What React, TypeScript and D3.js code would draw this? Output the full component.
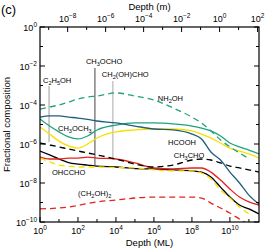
import React, { useRef, useEffect } from 'react';
import * as d3 from 'd3';

// depth grid (monolayers)
const depthML = [1, 3.2, 10, 32, 100, 320, 1e3, 1e4, 1e5, 1e6, 1e7, 1e8, 3.2e8, 1e9, 3.2e9, 1e10, 3.2e10, 1e11, 3.4e11];

// log10 of fractional composition on the depth grid
const tealSolid = [-4.72, -5.08, -5.38, -5.64, -5.74, -5.59, -5.28, -5.03, -4.92, -4.92, -4.97, -5.08, -5.18, -5.33, -5.59, -5.95, -6.15, -6.31, -6.51];
const yellowSolid = [-5.13, -5.49, -5.85, -6.1, -6.21, -6.0, -5.69, -5.38, -5.28, -5.23, -5.23, -5.33, -5.49, -5.69, -5.95, -6.21, -6.36, -6.51, -6.72];
const blueSolid = [-4.62, -4.56, -4.56, -4.62, -4.67, -4.74, -4.82, -4.92, -5.08, -5.23, -5.28, -5.49, -5.74, -6.41, -6.82, -7.44, -8.0, -8.62, -9.08];
const greenDashed = [-4.21, -4.1, -4.0, -3.85, -3.69, -3.59, -3.54, -3.38, -3.54, -3.74, -4.15, -4.62, -4.92, -5.33, -5.79, -6.15, -6.46, -6.75, null];
const blackSolid = [-6.36, -6.56, -6.77, -6.95, -7.03, -7.08, -7.13, -7.18, -7.26, -7.28, -7.33, -7.38, -7.44, -7.69, -8.21, -8.72, -9.13, -9.33, -9.59];
const redSolid = [-6.67, -6.77, -6.77, -6.72, -6.72, -6.67, -6.72, -6.77, -6.97, -7.23, -7.28, -7.23, -7.23, -7.44, -7.85, -8.31, -8.72, -8.97, -9.13];
const yellowDashed = [-6.72, -6.92, -7.08, -7.13, -7.18, -7.18, -7.18, -7.21, -7.23, -7.33, -7.38, -7.38, -7.49, -7.79, -8.36, -8.77, -9.23, -9.59, null];
const blackDashed = [-5.95, -6.05, -6.15, -6.26, -6.36, -6.46, -6.56, -6.77, -7.03, -7.18, -7.08, -6.82, -6.77, -6.82, -6.97, -7.13, -7.23, -7.33, -7.44];
const redDashed = [-9.33, -9.31, -9.28, -9.23, -9.15, -9.05, -8.97, -8.87, -8.77, -8.72, -8.72, -8.72, -8.77, -9.03, -9.28, -9.54, -9.85, -10.15, -10.46];

// species labels: text, depth (ML), fraction at baseline
const labelText = ['C2H5OH', 'CH3OCHO', 'CH2(OH)CHO', 'NH2OH', 'CH3OCH3', 'HCOOH', 'CH3CHO', 'OHCCHO', '(CH2OH)2'];
const labelDepth = [1.44, 263, 1.8e3, 1.6e6, 8.9, 5.5e6, 1.1e7, 4.3, 100];
const labelFrac = [1.35e-3, 1.26e-2, 2.7e-3, 1.6e-4, 4.7e-6, 8.9e-7, 1.9e-7, 2.6e-8, 2.1e-9];

// leader lines: depth, top and bottom fraction
const leaderDepth = [3.0, 780, 6.9e3];
const leaderTop = [9.4e-4, 7.9e-3, 1.7e-3];
const leaderBottom = [1.26e-6, 8.3e-8, 1.5e-7];
const leaderColor = ['#9a9a9a', '#444444', '#a8a8a8'];

const yTicks = [0, -1, -2, -3, -4, -5, -6, -7, -8, -9, -10];
const xTicks = [0, 1, 2, 3, 4, 5, 6, 7, 8, 9, 10, 11];
const topTicks = [-9, -8, -7, -6, -5, -4, -3, -2, -1, 0, 1, 2];

const mlThickness = 3.5e-10; // metres per monolayer

const App = () => {
  const svgRef = useRef<SVGSVGElement | null>(null);

  useEffect(() => {
    const width = 266;
    const height = 250;
    const margin = { top: 27, right: 7, bottom: 28, left: 40 };
    const font = '"Liberation Sans", Arial, Helvetica, sans-serif';

    const svg = d3.select(svgRef.current)
      .attr('width', width)
      .attr('height', height);
    svg.selectAll('*').remove();

    const x = d3.scaleLog()
      .domain([1, 3.4e11])
      .range([margin.left, width - margin.right]);
    const xTop = d3.scaleLog()
      .domain([1 * mlThickness, 3.4e11 * mlThickness])
      .range([margin.left, width - margin.right]);
    const y = d3.scaleLog()
      .domain([1e-10, 1])
      .range([height - margin.bottom, margin.top]);

    const x0 = margin.left, x1 = width - margin.right;
    const y0 = margin.top, y1 = height - margin.bottom;

    svg.append('defs').append('clipPath').attr('id', 'plot-clip')
      .append('rect')
      .attr('x', x0).attr('y', y0)
      .attr('width', x1 - x0).attr('height', y1 - y0);

    // label with superscript exponent
    const powLabel = (g: any, e: number) => {
      g.append('tspan').text('10');
      g.append('tspan')
        .attr('font-size', 6.5)
        .attr('dy', -4)
        .text(e < 0 ? '\u2212' + Math.abs(e) : String(e));
    };

    // chemistry label, digits are subscripts
    const chemLabel = (g: any, s: string) => {
      const parts = s.match(/\d+|\D+/g) || [];
      let sub = false;
      parts.forEach(p => {
        const isNum = /\d/.test(p);
        const t = g.append('tspan').text(p);
        if (isNum && !sub) { t.attr('font-size', 5.5).attr('dy', 2); sub = true; }
        else if (!isNum && sub) { t.attr('dy', -2); sub = false; }
      });
    };

    // leader lines
    leaderDepth.forEach((d, i) => {
      svg.append('line')
        .attr('x1', x(d)).attr('x2', x(d))
        .attr('y1', y(leaderTop[i])).attr('y2', y(leaderBottom[i]))
        .attr('stroke', leaderColor[i])
        .attr('stroke-width', 1);
    });

    const series = [
      { v: redDashed, color: '#e3231c', dash: '6,4' },
      { v: blackSolid, color: '#000000', dash: null },
      { v: redSolid, color: '#e3231c', dash: null },
      { v: yellowDashed, color: '#f7e000', dash: '6,4' },
      { v: blackDashed, color: '#000000', dash: '6,4' },
      { v: tealSolid, color: '#1ea37c', dash: null },
      { v: yellowSolid, color: '#f7e000', dash: null },
      { v: blueSolid, color: '#1f5e7d', dash: null },
      { v: greenDashed, color: '#1ea37c', dash: '6,4' },
    ];

    const line = d3.line<[number, number | null]>()
      .defined(d => d[1] !== null)
      .x(d => x(d[0]))
      .y(d => y(Math.pow(10, d[1] as number)))
      .curve(d3.curveMonotoneX);

    const plot = svg.append('g').attr('clip-path', 'url(#plot-clip)');
    series.forEach(s => {
      plot.append('path')
        .datum(depthML.map((d, i) => [d, s.v[i]] as [number, number | null]))
        .attr('fill', 'none')
        .attr('stroke', s.color)
        .attr('stroke-width', 1.3)
        .attr('stroke-dasharray', s.dash)
        .attr('d', line);
    });

    // species labels
    labelText.forEach((t, i) => {
      const g = svg.append('text')
        .attr('x', x(labelDepth[i]))
        .attr('y', y(labelFrac[i]))
        .attr('font-family', font)
        .attr('font-size', 7.5)
        .attr('fill', '#000');
      chemLabel(g, t);
    });

    // frame
    svg.append('rect')
      .attr('x', x0).attr('y', y0)
      .attr('width', x1 - x0).attr('height', y1 - y0)
      .attr('fill', 'none')
      .attr('stroke', '#000')
      .attr('stroke-width', 1.2);

    const ticks = svg.append('g').attr('stroke', '#000').attr('stroke-width', 1);

    // left / right ticks
    yTicks.forEach(e => {
      const yy = y(Math.pow(10, e));
      const len = e % 2 === 0 ? 5 : 3;
      ticks.append('line').attr('x1', x0).attr('x2', x0 + len).attr('y1', yy).attr('y2', yy);
      ticks.append('line').attr('x1', x1).attr('x2', x1 - len).attr('y1', yy).attr('y2', yy);
      if (e % 2 === 0) {
        const g = svg.append('text')
          .attr('x', x0 - 3).attr('y', yy + 3.5)
          .attr('text-anchor', 'end')
          .attr('font-family', font).attr('font-size', 9);
        powLabel(g, e);
      }
    });

    // bottom ticks
    xTicks.forEach(e => {
      const xx = x(Math.pow(10, e));
      const len = e % 2 === 0 ? 5 : 3;
      ticks.append('line').attr('x1', xx).attr('x2', xx).attr('y1', y1).attr('y2', y1 - len);
      if (e % 2 === 0) {
        const g = svg.append('text')
          .attr('x', xx).attr('y', y1 + 12)
          .attr('text-anchor', 'middle')
          .attr('font-family', font).attr('font-size', 9);
        powLabel(g, e);
      }
    });

    // top ticks (metres)
    topTicks.forEach(e => {
      const xx = xTop(Math.pow(10, e));
      const len = e % 2 === 0 ? 5 : 3;
      ticks.append('line').attr('x1', xx).attr('x2', xx).attr('y1', y0).attr('y2', y0 + len);
      if (e % 2 === 0) {
        const g = svg.append('text')
          .attr('x', xx).attr('y', y0 - 5)
          .attr('text-anchor', 'middle')
          .attr('font-family', font).attr('font-size', 9);
        powLabel(g, e);
      }
    });

    // axis titles
    svg.append('text')
      .attr('x', (x0 + x1) / 2).attr('y', height - 4)
      .attr('text-anchor', 'middle')
      .attr('font-family', font).attr('font-size', 9.5)
      .text('Depth (ML)');

    svg.append('text')
      .attr('x', (x0 + x1) / 2).attr('y', 10)
      .attr('text-anchor', 'middle')
      .attr('font-family', font).attr('font-size', 9.5)
      .text('Depth (m)');

    svg.append('text')
      .attr('transform', `translate(10,${(y0 + y1) / 2}) rotate(-90)`)
      .attr('text-anchor', 'middle')
      .attr('font-family', font).attr('font-size', 9.5)
      .text('Fractional composition');

    svg.append('text')
      .attr('x', 1).attr('y', 14)
      .attr('font-family', font).attr('font-size', 13)
      .text('(c)');
  }, []);

  return (
    <svg ref={svgRef} style={{ position: 'absolute', left: 0, top: 0 }}></svg>
  );
};

export default App;
